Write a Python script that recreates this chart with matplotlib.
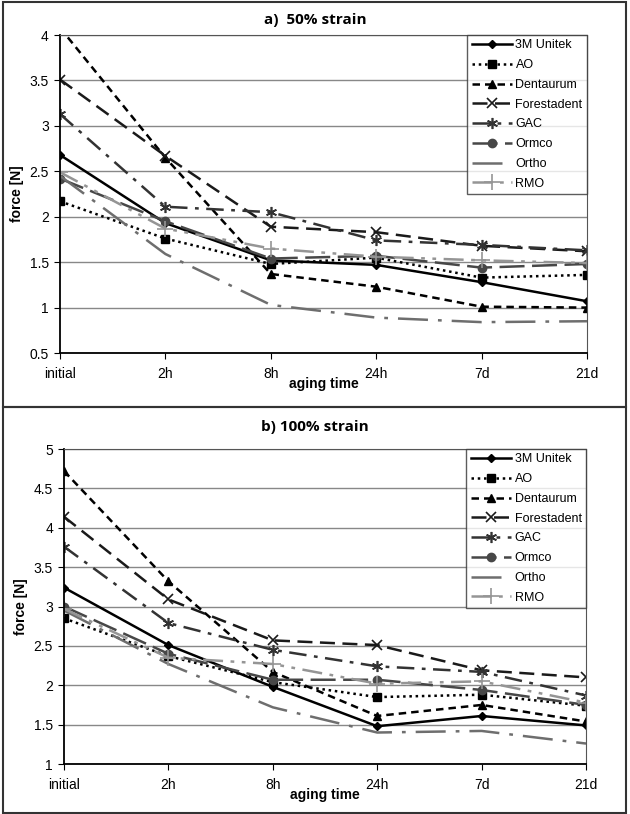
import matplotlib.pyplot as plt
from matplotlib.patches import Rectangle

plt.rcParams['font.family'] = ['Liberation Sans', 'DejaVu Sans']

times = ['initial', '2h', '8h', '24h', '7d', '21d']
brands = ['3M Unitek', 'AO', 'Dentaurum', 'Forestadent', 'GAC', 'Ormco', 'Ortho', 'RMO']

# a) 50% strain
unitek_50 = [2.68, 1.93, 1.52, 1.47, 1.28, 1.07]
ao_50 = [2.17, 1.76, 1.48, 1.55, 1.33, 1.36]
dentaurum_50 = [4.08, 2.65, 1.37, 1.23, 1.01, 1.00]
forestadent_50 = [3.51, 2.67, 1.89, 1.83, 1.68, 1.62]
gac_50 = [3.13, 2.11, 2.05, 1.74, 1.69, 1.63]
ormco_50 = [2.42, 1.95, 1.54, 1.57, 1.44, 1.48]
ortho_50 = [2.45, 1.59, 1.03, 0.89, 0.84, 0.85]
rmo_50 = [2.49, 1.87, 1.65, 1.56, 1.52, 1.49]

# b) 100% strain
unitek_100 = [3.24, 2.51, 1.98, 1.48, 1.61, 1.49]
ao_100 = [2.85, 2.37, 2.04, 1.85, 1.88, 1.74]
dentaurum_100 = [4.72, 3.32, 2.17, 1.61, 1.75, 1.54]
forestadent_100 = [4.14, 3.09, 2.57, 2.51, 2.19, 2.10]
gac_100 = [3.76, 2.79, 2.45, 2.24, 2.17, 1.87]
ormco_100 = [3.00, 2.40, 2.07, 2.07, 1.94, 1.75]
ortho_100 = [2.95, 2.27, 1.72, 1.40, 1.42, 1.26]
rmo_100 = [2.97, 2.35, 2.27, 2.02, 2.05, 1.78]

styles = [
    dict(color='black', lw=1.8, ls='-', marker='D', ms=4),
    dict(color='black', lw=1.8, ls=(0, (1, 1.5)), marker='s', ms=6),
    dict(color='black', lw=1.8, ls=(0, (3, 2)), marker='^', ms=6),
    dict(color='#1a1a1a', lw=1.8, ls=(0, (6, 3)), marker='x', ms=7, mew=1.2),
    dict(color='#333333', lw=1.8, ls=(0, (7, 3, 1.5, 3)), marker=(6, 2, 0), ms=8, mew=1.2),
    dict(color='#474747', lw=1.8, ls=(0, (10, 3)), marker='o', ms=6),
    dict(color='#6e6e6e', lw=1.8, ls=(0, (12, 4, 1.5, 4)), marker=None),
    dict(color='#959595', lw=1.8, ls=(0, (8, 3, 1.5, 3, 1.5, 3)), marker='+', ms=12, mew=1.2),
]

fig = plt.figure(figsize=(6.3, 8.14), dpi=100)

# panel frames
fig.patches.append(Rectangle((0.004, 0.5), 0.99, 0.4975, transform=fig.transFigure,
                             fill=False, edgecolor='#333333', lw=1.5))
fig.patches.append(Rectangle((0.004, 0.0015), 0.99, 0.4985, transform=fig.transFigure,
                             fill=False, edgecolor='#333333', lw=1.5))


def draw_panel(ax, series, ylim, ticks, title, title_y):
    for name, vals, st in zip(brands, series, styles):
        ax.plot(times, vals, label=name, **st)
    ax.set_ylim(*ylim)
    ax.set_xlim(0, len(times) - 1)
    ax.set_yticks(ticks)
    ax.set_yticklabels([f'{t:g}' for t in ticks])
    ax.grid(axis='y', color='#888888', lw=1)
    ax.set_axisbelow(True)
    for s in ['top', 'right']:
        ax.spines[s].set_color('#555555')
    for s in ['left', 'bottom']:
        ax.spines[s].set_linewidth(1.3)
    ax.tick_params(labelsize=10, length=4, direction='out', pad=4)
    ax.tick_params(axis='x', pad=6)
    ax.set_xlabel('aging time', fontsize=10, fontweight='bold')
    ax.xaxis.set_label_coords(0.5, -0.075)
    ax.set_ylabel('force [N]', fontsize=10, fontweight='bold', labelpad=4)
    fig.text(0.5, title_y, title, ha='center', va='center', fontsize=11,
             fontweight='bold', family=['Open Sans', 'DejaVu Sans'])
    leg = ax.legend(loc='upper right', bbox_to_anchor=(1.0, 1.0), fontsize=9,
                    frameon=True, fancybox=False, borderaxespad=0,
                    handlelength=3.2, handletextpad=0.3, labelspacing=0.62,
                    borderpad=0.35)
    leg.get_frame().set_edgecolor('#333333')
    leg.get_frame().set_linewidth(1)


ax1 = fig.add_axes([0.0952, 0.5663, 0.8365, 0.3907])
draw_panel(ax1, [unitek_50, ao_50, dentaurum_50, forestadent_50, gac_50,
                 ormco_50, ortho_50, rmo_50],
           (0.5, 4), [0.5, 1, 1.5, 2, 2.5, 3, 3.5, 4], 'a)  50% strain', 0.976)

ax2 = fig.add_axes([0.1016, 0.0614, 0.8286, 0.387])
draw_panel(ax2, [unitek_100, ao_100, dentaurum_100, forestadent_100, gac_100,
                 ormco_100, ortho_100, rmo_100],
           (1, 5), [1, 1.5, 2, 2.5, 3, 3.5, 4, 4.5, 5], 'b) 100% strain', 0.475)

fig.savefig('out.png', dpi=100)
